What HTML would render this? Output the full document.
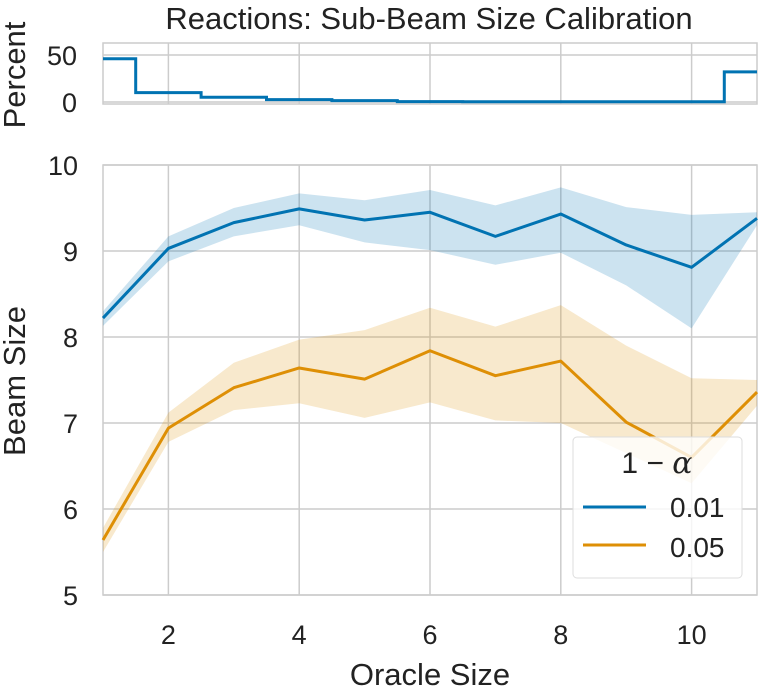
<!DOCTYPE html>
<html><head><meta charset="utf-8"><style>
body{margin:0;background:#fff;}
svg{display:block;font-family:"Liberation Sans","DejaVu Sans",sans-serif;}
</style></head><body>
<svg id="chart" width="763" height="689" viewBox="0 0 763 689" xmlns="http://www.w3.org/2000/svg">
<text x="429" y="29" font-size="31" text-anchor="middle" fill="#222">Reactions: Sub-Beam Size Calibration</text>
<g id="toppanel"></g>
<g id="mainpanel"></g>
<text transform="translate(25,75) rotate(-90)" font-size="31" text-anchor="middle" fill="#222">Percent</text>
<text transform="translate(25,381) rotate(-90)" font-size="31" text-anchor="middle" fill="#222">Beam Size</text>
<text x="430" y="685" font-size="31" text-anchor="middle" fill="#222">Oracle Size</text>
<g>
<rect x="573" y="437" width="169" height="141" rx="4" fill="#fff" fill-opacity="0.8" stroke="#ddd"/>
<text x="657" y="473" font-size="30" text-anchor="middle" fill="#222">1 − <tspan font-style="italic" font-family="DejaVu Serif, serif">α</tspan></text>
<line x1="583" y1="507" x2="646" y2="507" stroke="#0173b2" stroke-width="3"/>
<text x="670" y="517" font-size="28" fill="#222">0.01</text>
<line x1="583" y1="545" x2="646" y2="545" stroke="#de8f05" stroke-width="3"/>
<text x="670" y="557" font-size="28" fill="#222">0.05</text>
</g>
</svg>
<script>
const oracleSizes = [1,2,3,4,5,6,7,8,9,10,11];
const percentValues = [46,10,5,2.5,1.5,0.4,0.3,0.3,0.3,0.3,32];
const blueMean = [8.22,9.03,9.33,9.49,9.36,9.45,9.17,9.43,9.07,8.81,9.38];
const blueLow  = [8.13,8.88,9.17,9.30,9.10,9.01,8.84,8.98,8.60,8.10,9.30];
const blueHigh = [8.30,9.17,9.50,9.67,9.59,9.71,9.53,9.74,9.51,9.42,9.45];
const orangeMean = [5.64,6.94,7.41,7.64,7.51,7.84,7.55,7.72,7.01,6.60,7.36];
const orangeLow  = [5.50,6.78,7.15,7.23,7.06,7.24,7.03,7.00,6.65,6.30,7.20];
const orangeHigh = [5.78,7.12,7.70,7.97,8.08,8.34,8.12,8.37,7.90,7.52,7.50];
const xTicks = [2,4,6,8,10];
const yTicksMain = [5,6,7,8,9,10];
const yTicksTop = [0,50];

const NS="http://www.w3.org/2000/svg";
const L=103,R=757;
const xs=v=>L+(v-1)*(R-L)/10;
const ysMain=v=>165+(10-v)*86;
const ysTop=v=>102-v*(47/50);
function mk(tag,attrs,parent){const e=document.createElementNS(NS,tag);for(const k in attrs)e.setAttribute(k,attrs[k]);parent.appendChild(e);return e;}
const topPanel=document.getElementById('toppanel'), mainPanel=document.getElementById('mainpanel');

// top panel
let r=mk('rect',{x:L,y:43,width:R-L,height:61,fill:'#fff',stroke:'#ccc','stroke-width':1.5},topPanel);


xTicks.forEach(t=>{const g=mk('line',{x1:xs(t),x2:xs(t),y1:43,y2:104,stroke:'#ccc','stroke-width':1.5},topPanel);

});
yTicksTop.forEach(t=>{const g=mk('line',{x1:L,x2:R,y1:ysTop(t),y2:ysTop(t),stroke:'#ccc','stroke-width':1.5},topPanel);


const tx=mk('text',{x:77,y:ysTop(t)+10,'font-size':27,'text-anchor':'end',fill:'#222'},topPanel);tx.textContent=t;

});
let d='';
oracleSizes.forEach((s,i)=>{const x0=xs(Math.max(1,s-0.5)),x1=xs(Math.min(11,s+0.5)),y=ysTop(percentValues[i]);d+=(i?'L':'M')+x0+','+y+'L'+x1+','+y;});
let st=mk('path',{d:d,fill:'none',stroke:'#0173b2','stroke-width':3},topPanel);



// main panel
r=mk('rect',{x:L,y:165,width:R-L,height:430,fill:'#fff',stroke:'#ccc','stroke-width':1.5},mainPanel);


xTicks.forEach(t=>{const g=mk('line',{x1:xs(t),x2:xs(t),y1:165,y2:595,stroke:'#ccc','stroke-width':1.5},mainPanel);


const tx=mk('text',{x:xs(t),y:644,'font-size':27,'text-anchor':'middle',fill:'#222'},mainPanel);tx.textContent=t;

});
yTicksMain.forEach(t=>{const g=mk('line',{x1:L,x2:R,y1:ysMain(t),y2:ysMain(t),stroke:'#ccc','stroke-width':1.5},mainPanel);


const tx=mk('text',{x:78,y:ysMain(t)+10,'font-size':27,'text-anchor':'end',fill:'#222'},mainPanel);tx.textContent=t;

});
function series(mean,low,high,color,name){
  let p='';oracleSizes.forEach((s,i)=>p+=(i?'L':'M')+xs(s)+','+ysMain(high[i]));
  for(let i=oracleSizes.length-1;i>=0;i--)p+='L'+xs(oracleSizes[i])+','+ysMain(low[i]);
  const b=mk('path',{d:p+'Z',fill:color,'fill-opacity':0.2,stroke:'none'},mainPanel);
  
  
  let l='';oracleSizes.forEach((s,i)=>l+=(i?'L':'M')+xs(s)+','+ysMain(mean[i]));
  const ln=mk('path',{d:l,fill:'none',stroke:color,'stroke-width':3,'stroke-linejoin':'round'},mainPanel);
  
  
}
series(blueMean,blueLow,blueHigh,'#0173b2','series-0.01');
series(orangeMean,orangeLow,orangeHigh,'#de8f05','series-0.05');
</script>
</body></html>
